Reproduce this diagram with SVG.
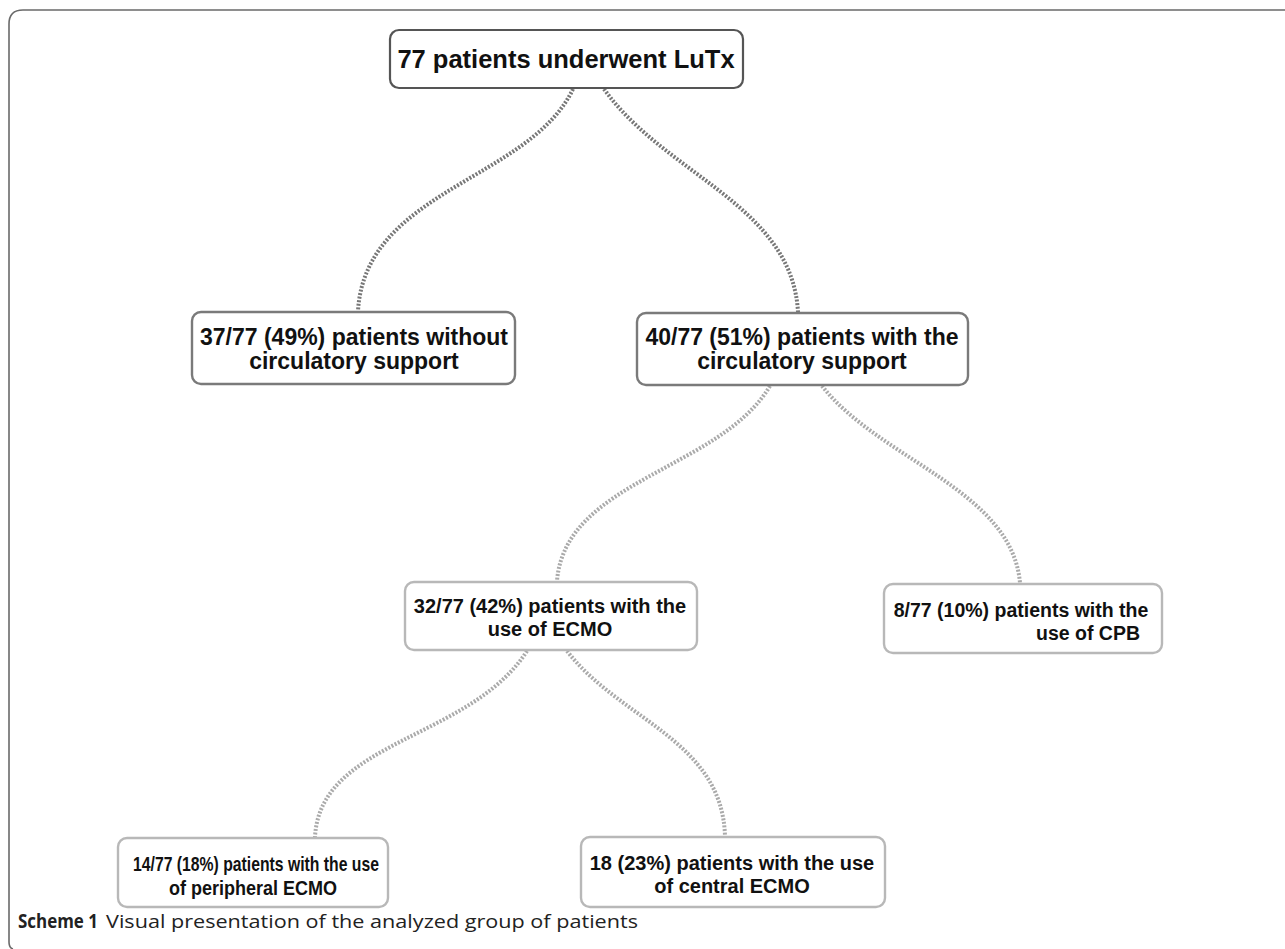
<svg xmlns="http://www.w3.org/2000/svg" width="1285" height="949" viewBox="0 0 1285 949">
<style>
.frame{fill:none;stroke:#6a6a6a;stroke-width:1.6}
.b1{fill:#fff;stroke:#555;stroke-width:2.2}
.b2{fill:#fff;stroke:#7a7a7a;stroke-width:2.4}
.b3{fill:#fff;stroke:#b8b8b8;stroke-width:2.4}
.t{font-family:"Liberation Sans",Arial,sans-serif;font-weight:bold;fill:#111;text-anchor:middle}
.c1{fill:none;stroke:#777;stroke-width:4;stroke-dasharray:2 1.6}
.c2{fill:none;stroke:#aaa;stroke-width:4;stroke-dasharray:2 1.6}
.cap{font-family:"Open Sans","Noto Sans",sans-serif;font-size:19px;fill:#222}
</style>
<rect width="1285" height="949" fill="#fff"/>
<path class="frame" d="M9,942 L9,24 Q9,10 23,10 L1285,10"/>
<path class="frame" d="M9,942 Q9,948 13,949"/>
<g id="connectors">
<path class="c1" d="M573,89 C530,180 365,190 358,311"/>
<path class="c1" d="M604,89 C665,175 792,205 798,312"/>
<path class="c2" d="M770,386 C720,470 565,480 557,581"/>
<path class="c2" d="M822,386 C880,460 1012,490 1020,583"/>
<path class="c2" d="M527,651 C470,740 320,740 315,837"/>
<path class="c2" d="M567,651 C620,720 722,740 725,836"/>
</g>
<g id="n_top">
<rect class="b1" x="390" y="30" width="353" height="58" rx="9"/>
<text class="t" x="566" y="68" font-size="25.5">77 patients underwent LuTx</text>
</g>
<g id="n_without">
<rect class="b2" x="192" y="312" width="323" height="72" rx="9"/>
<text class="t" x="354" y="345" font-size="23">37/77 (49%) patients without</text>
<text class="t" x="354" y="369" font-size="23">circulatory support</text>
</g>
<g id="n_with">
<rect class="b2" x="637" y="313" width="331" height="72" rx="9"/>
<text class="t" x="802" y="345" font-size="23">40/77 (51%) patients with the</text>
<text class="t" x="802" y="369" font-size="23">circulatory support</text>
</g>
<g id="n_ecmo">
<rect class="b3" x="405" y="582" width="292" height="68" rx="9"/>
<text class="t" x="550" y="613" font-size="20">32/77 (42%) patients with the</text>
<text class="t" x="550" y="636" font-size="20">use of ECMO</text>
</g>
<g id="n_cpb">
<rect class="b3" x="884" y="584" width="278" height="69" rx="9"/>
<text class="t" x="1021" y="617" font-size="19.5">8/77 (10%) patients with the</text>
<text class="t" x="1088" y="640" font-size="19.5">use of CPB</text>
</g>
<g id="n_peripheral">
<rect class="b3" x="118" y="838" width="270" height="69" rx="9"/>
<text class="t" x="256" y="871" font-size="21" textLength="246" lengthAdjust="spacingAndGlyphs">14/77 (18%) patients with the use</text>
<text class="t" x="253" y="895" font-size="21" textLength="168" lengthAdjust="spacingAndGlyphs">of peripheral ECMO</text>
</g>
<g id="n_central">
<rect class="b3" x="581" y="837" width="304" height="70" rx="9"/>
<text class="t" x="732" y="870" font-size="20">18 (23%) patients with the use</text>
<text class="t" x="732" y="893" font-size="20">of central ECMO</text>
</g>
<text class="cap" x="18" y="928" font-weight="bold" textLength="80" lengthAdjust="spacingAndGlyphs">Scheme 1</text>
<text class="cap" x="106" y="928" textLength="532" lengthAdjust="spacingAndGlyphs">Visual presentation of the analyzed group of patients</text>
</svg>
